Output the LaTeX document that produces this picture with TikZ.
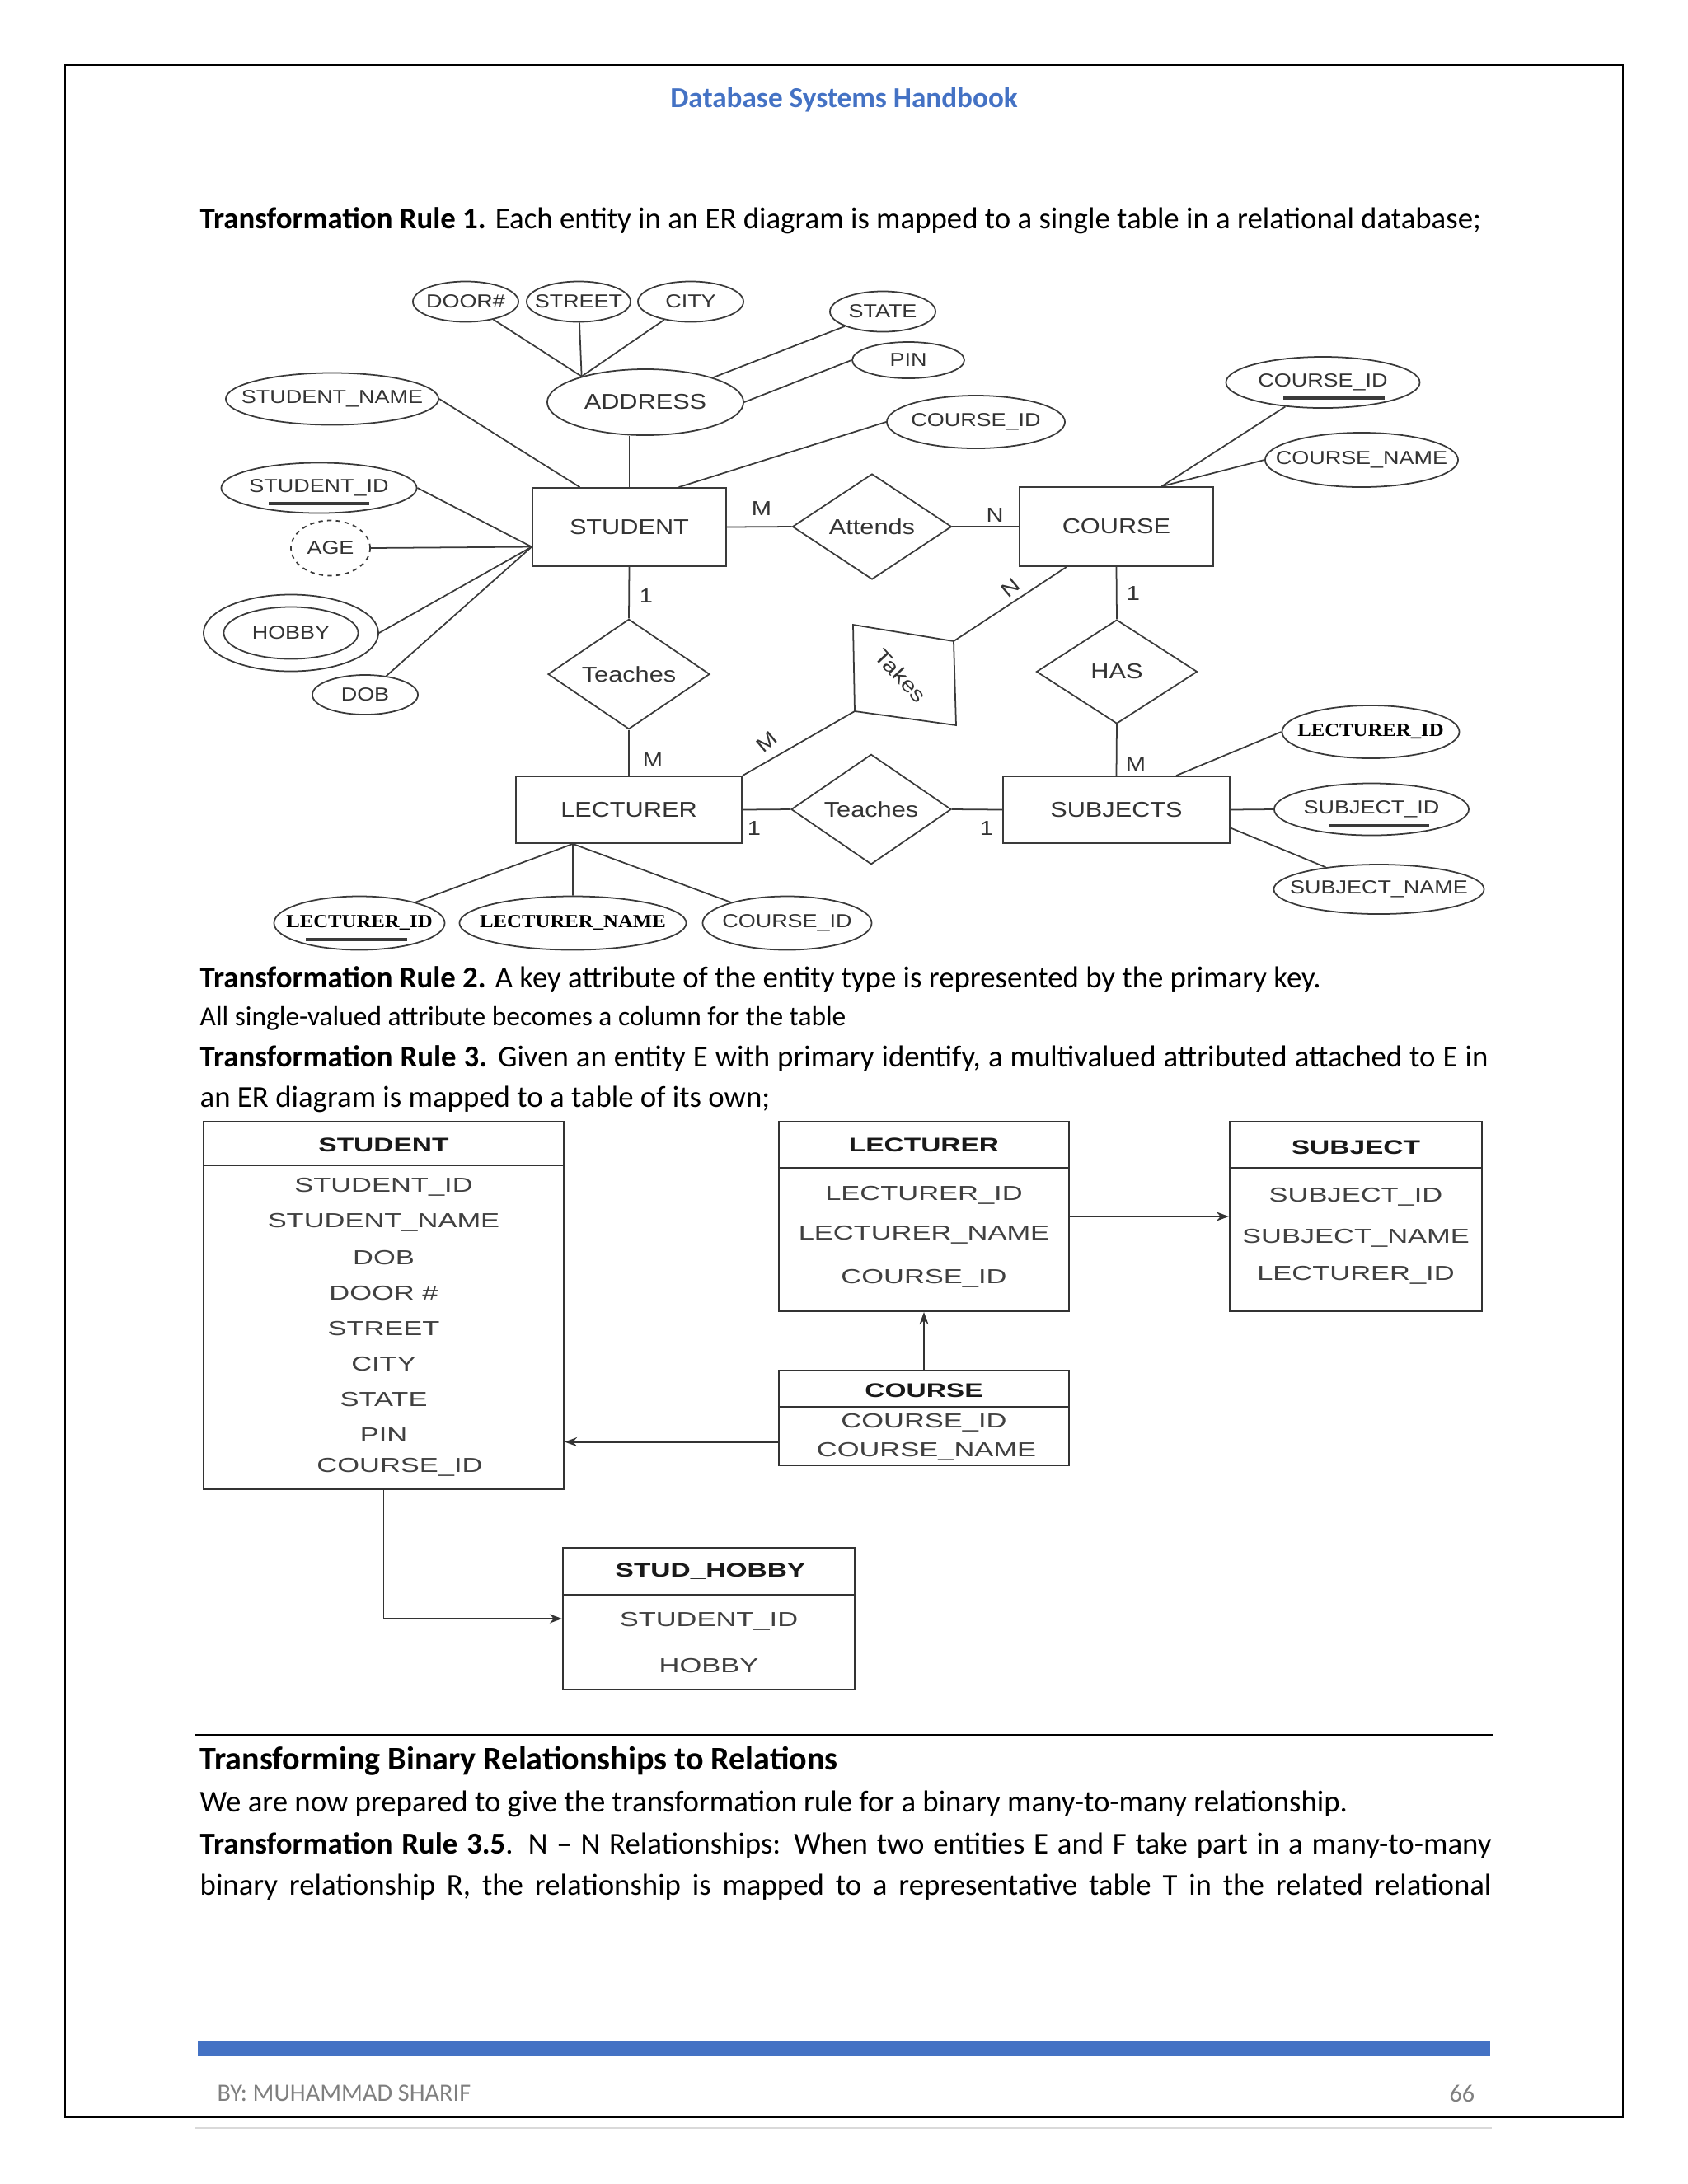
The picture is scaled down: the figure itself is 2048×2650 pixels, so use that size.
\documentclass[tikz,border=0pt]{standalone}
\usepackage{fontspec}
\usepackage{xcolor}
\usetikzlibrary{shapes.geometric,arrows.meta}
\setmainfont{Carlito}
\newfontfamily\erfont[FakeStretch=1.18]{Liberation Sans}
\newfontfamily\erserif[FakeStretch=1.1]{Liberation Serif}
\newfontfamily\tblfont[FakeStretch=1.4]{Liberation Sans}
\definecolor{hdblue}{HTML}{4472C4}
\definecolor{linegray}{HTML}{3A3A3A}
\definecolor{ertext}{HTML}{333333}
\definecolor{footgray}{HTML}{7F7F7F}
\newcommand{\attrtext}[1]{\makebox[0pt]{#1}}

\begin{document}
\begin{tikzpicture}[x=0.01cm, y=-0.01cm,
    erstroke/.style={draw=linegray, line width=0.5pt},
    attr/.style={ellipse, erstroke, inner sep=0pt, text=ertext, font=\erfont\fontsize{6.5}{7}\selectfont},
    boldattr/.style={attr, font=\erserif\bfseries\fontsize{6.4}{7}\selectfont, text=black},
    entity/.style={rectangle, erstroke, inner sep=0pt, text=ertext, font=\erfont\fontsize{7.4}{8}\selectfont},
    rel/.style={diamond, erstroke, inner sep=0pt, text=ertext, font=\erfont\fontsize{7.4}{8}\selectfont},
    card/.style={inner sep=0pt, text=ertext, font=\erfont\fontsize{7}{8}\selectfont},
    keyline/.style={draw=linegray, line width=1.1pt},
    tbl/.style={rectangle, draw=black!80, line width=0.55pt, inner sep=0pt},
    ttl/.style={inner sep=0pt, text=black!90, font=\tblfont\bfseries\fontsize{6.8}{8}\selectfont},
    row/.style={inner sep=0pt, text=black!75, font=\tblfont\fontsize{7}{8}\selectfont},
    fk/.style={draw=black!80, line width=0.55pt, -{Stealth[length=1.5mm,width=1.1mm]}},
    bodytext/.style={anchor=west, inner sep=0pt, font=\fontsize{10.47}{12}\selectfont},
  ]
    \useasboundingbox (0,0) rectangle (2048,2650);

    % page frame, header and footer
    \draw[line width=0.7pt] (79,79) rectangle (1969,2569);
    \draw[black!15, line width=0.8pt] (237,2582) -- (1810,2582);
    \node[inner sep=0pt, text=hdblue, font=\bfseries\fontsize{10}{12}\selectfont] (header) at (1024,121) {Database Systems Handbook};
    \fill[hdblue] (240,2476) rectangle (1808,2495);
    \node[anchor=west, inner sep=0pt, text=footgray, font=\fontsize{8.6}{10}\selectfont] (author) at (263,2540) {BY: MUHAMMAD SHARIF};
    \node[anchor=east, inner sep=0pt, text=footgray, font=\fontsize{8.6}{10}\selectfont] (pageno) at (1790,2540) {66};

    \node[bodytext] (rule1) at (242,268) {\textbf{Transformation Rule 1.} Each entity in an ER diagram is mapped to a single table in a relational database;};

    % ER diagram
    \node[attr, minimum width=1.28cm, minimum height=0.49cm] (door) at (565,366) {\attrtext{DOOR\#}};
    \node[attr, minimum width=1.26cm, minimum height=0.49cm] (street) at (702,366) {\attrtext{STREET}};
    \node[attr, minimum width=1.28cm, minimum height=0.49cm] (city) at (838,366) {\attrtext{CITY}};
    \node[attr, minimum width=1.28cm, minimum height=0.49cm] (state) at (1071,378) {\attrtext{STATE}};
    \node[attr, minimum width=1.36cm, minimum height=0.44cm] (pin) at (1102,437) {\attrtext{PIN}};
    \node[attr, minimum width=2.38cm, minimum height=0.80cm, font=\erfont\fontsize{7.4}{8}\selectfont] (addr) at (783,488) {\attrtext{ADDRESS}};
    \node[attr, minimum width=2.58cm, minimum height=0.63cm] (sname) at (403,484) {\attrtext{STUDENT\_NAME}};
    \node[attr, minimum width=2.16cm, minimum height=0.64cm] (scid) at (1184,512) {\attrtext{COURSE\_ID}};
    \node[attr, minimum width=2.37cm, minimum height=0.61cm] (sid) at (387,592) {\attrtext{STUDENT\_ID}};
    \node[attr, dash pattern=on 1.5pt off 1.5pt, minimum width=0.96cm, minimum height=0.67cm] (age) at (401,665) {\attrtext{AGE}};
    \node[attr, minimum width=2.12cm, minimum height=0.93cm] (hobout) at (353,768) {};
    \node[attr, minimum width=1.63cm, minimum height=0.63cm] (hobby) at (353,768) {\attrtext{HOBBY}};
    \node[attr, minimum width=1.28cm, minimum height=0.48cm] (dob) at (443,843) {\attrtext{DOB}};

    \node[entity, minimum width=2.35cm, minimum height=0.95cm] (student) at (763.5,639.5) {STUDENT};
    \node[rel, minimum width=1.93cm, minimum height=1.28cm] (attends) at (1058,639) {Attends};
    \node[entity, minimum width=2.35cm, minimum height=0.96cm] (course) at (1354.5,639) {COURSE};
    \node[attr, minimum width=2.35cm, minimum height=0.62cm] (ckey) at (1605,464) {\attrtext{COURSE\_ID}};
    \node[attr, minimum width=2.34cm, minimum height=0.66cm] (cname) at (1652,558) {\attrtext{COURSE\_NAME}};
    \node[rel, minimum width=1.96cm, minimum height=1.27cm] (teaches) at (763,818) {Teaches};
    \node[rel, minimum width=1.95cm, minimum height=1.26cm] (has) at (1355,815) {HAS};
    \node[entity, minimum width=2.74cm, minimum height=0.81cm] (lecturer) at (763,982.5) {LECTURER};
    \node[rel, minimum width=1.94cm, minimum height=1.28cm] (teachtwo) at (1057,982) {Teaches};
    \node[entity, minimum width=2.75cm, minimum height=0.81cm] (subjects) at (1354.5,982.5) {SUBJECTS};
    \node[boldattr, minimum width=2.15cm, minimum height=0.64cm] (slid) at (1663,888) {\attrtext{LECTURER\_ID}};
    \node[attr, minimum width=2.36cm, minimum height=0.63cm] (ssid) at (1664,982) {\attrtext{SUBJECT\_ID}};
    \node[attr, minimum width=2.55cm, minimum height=0.60cm] (ssname) at (1673,1079) {\attrtext{SUBJECT\_NAME}};
    \node[boldattr, minimum width=2.07cm, minimum height=0.65cm] (lid) at (436,1120) {\attrtext{LECTURER\_ID}};
    \node[boldattr, minimum width=2.75cm, minimum height=0.65cm] (lname) at (695,1120) {\attrtext{LECTURER\_NAME}};
    \node[attr, minimum width=2.05cm, minimum height=0.65cm] (lcid) at (955,1120) {\attrtext{COURSE\_ID}};

    \coordinate (tk1) at (1035,758);
    \coordinate (tk2) at (1157,778);
    \coordinate (tk3) at (1160,880);
    \coordinate (tk4) at (1037,863);
    \draw[erstroke] (tk1) -- (tk2) -- (tk3) -- (tk4) -- cycle;
    \node[card, rotate=-47, font=\erfont\fontsize{7.2}{8}\selectfont] (takes) at (1093,820) {Takes};

    \coordinate (sleft) at ([yshift=-0.24cm]student.west);
    \coordinate (ctop) at ([xshift=0.55cm]course.north);

    \draw[erstroke] (door) -- (addr.158);
    \draw[erstroke] (street) -- (addr.158);
    \draw[erstroke] (city) -- (addr.158);
    \draw[erstroke] (addr.20) -- (state);
    \draw[erstroke] (addr.east) -- (pin.west);
    \draw[erstroke] (student.north) -- (student.north |- addr.south);
    \draw[erstroke] (sname.east) -- ([xshift=-0.6cm]student.north);
    \draw[erstroke] (scid.west) -- ([xshift=0.6cm]student.north);
    \draw[erstroke] (sid.east) -- (sleft);
    \draw[erstroke] (age.east) -- (sleft);
    \draw[erstroke] (hobout.east) -- (sleft);
    \draw[erstroke] (dob) -- (sleft);
    \draw[erstroke] (student.east) -- (attends.west);
    \draw[erstroke] (attends.east) -- (course.west);
    \draw[erstroke] (ckey) -- (ctop);
    \draw[erstroke] (cname.west) -- (ctop);
    \draw[erstroke] (student.south) -- (teaches.north);
    \draw[erstroke] (teaches.south) -- (lecturer.north);
    \draw[erstroke] (course.south) -- (has.north);
    \draw[erstroke] (has.south) -- (subjects.north);
    \draw[erstroke] (lecturer.east) -- (teachtwo.west);
    \draw[erstroke] (teachtwo.east) -- (subjects.west);
    \draw[erstroke] (lecturer.north east) -- (tk4);
    \draw[erstroke] (tk2) -- ([xshift=-0.605cm]course.south);
    \draw[erstroke] (slid.west) -- ([xshift=0.725cm]subjects.north);
    \draw[erstroke] (subjects.east) -- (ssid.west);
    \draw[erstroke] ([yshift=-0.22cm]subjects.east) -- (ssname);
    \draw[erstroke] (lid) -- ([xshift=-0.68cm]lecturer.south);
    \draw[erstroke] (lname.north) -- ([xshift=-0.68cm]lecturer.south);
    \draw[erstroke] (lcid) -- ([xshift=-0.68cm]lecturer.south);

    % key underlines
    \draw[keyline] ([shift={(-61,19)}]sid.center) -- ([shift={(61,19)}]sid.center);
    \draw[keyline] ([shift={(-48,19)}]ckey.center) -- ([shift={(75,19)}]ckey.center);
    \draw[keyline] ([shift={(-52,20)}]ssid.center) -- ([shift={(70,20)}]ssid.center);
    \draw[keyline] ([shift={(-65,20)}]lid.center) -- ([shift={(58,20)}]lid.center);

    % cardinalities
    \node[card] (c1) at (924,617) {M};
    \node[card] (c2) at (1207,625) {N};
    \node[card] (c3) at (784,723) {1};
    \node[card] (c4) at (792,922) {M};
    \node[card] (c5) at (1375,720) {1};
    \node[card] (c6) at (1378,927) {M};
    \node[card] (c7) at (915,1005) {1};
    \node[card] (c8) at (1197,1005) {1};
    \node[card, rotate=40] (c9) at (930,900) {M};
    \node[card, rotate=40] (c10) at (1226,713) {N};

    \node[bodytext] (rule2) at (242,1188) {\textbf{Transformation Rule 2.} A key attribute of the entity type is represented by the primary key.};
    \node[bodytext, font=\fontsize{9.5}{11}\selectfont] (single) at (242,1236) {All single-valued attribute becomes a column for the table};
    \node[bodytext] (rule3a) at (242,1284) {\makebox[15.62cm][s]{\textbf{Transformation Rule 3.} Given an entity E with primary identify, a multivalued attributed attached to E in}};
    \node[bodytext] (rule3b) at (242,1334) {an ER diagram is mapped to a table of its own;};

    % relational tables
    \node[tbl, minimum width=4.37cm, minimum height=4.46cm] (tstudent) at (465.5,1584) {};
    \draw[tbl] ([yshift=-0.54cm]tstudent.north west) -- ([yshift=-0.54cm]tstudent.north east);
    \node[ttl] (tstudentttl) at (465.5,1389) {STUDENT};
    \foreach \y/\txt [count=\i] in {1440/STUDENT\_ID, 1483/STUDENT\_NAME, 1526/DOB, 1569/DOOR \#, 1612/STREET, 1655/CITY, 1698/STATE, 1741/PIN}
        \node[row] (srow\i) at (465.5,\y) {\txt};
    \node[row] (srow9) at (485,1780) {COURSE\_ID};

    \node[tbl, minimum width=3.52cm, minimum height=2.30cm] (tlecturer) at (1121,1476) {};
    \draw[tbl] ([yshift=-0.57cm]tlecturer.north west) -- ([yshift=-0.57cm]tlecturer.north east);
    \node[ttl] (tlecturerttl) at (1121,1389) {LECTURER};
    \foreach \y/\txt [count=\i] in {1450/LECTURER\_ID, 1498/LECTURER\_NAME, 1551/COURSE\_ID}
        \node[row] (lrow\i) at (1121,\y) {\txt};

    \node[tbl, minimum width=3.06cm, minimum height=2.30cm] (tsubject) at (1645,1476) {};
    \draw[tbl] ([yshift=-0.57cm]tsubject.north west) -- ([yshift=-0.57cm]tsubject.north east);
    \node[ttl] (tsubjectttl) at (1645,1392) {SUBJECT};
    \foreach \y/\txt [count=\i] in {1452/SUBJECT\_ID, 1502/SUBJECT\_NAME, 1547/LECTURER\_ID}
        \node[row] (jrow\i) at (1645,\y) {\txt};

    \node[tbl, minimum width=3.52cm, minimum height=1.15cm] (tcourse) at (1121,1720.5) {};
    \draw[tbl] ([yshift=-0.45cm]tcourse.north west) -- ([yshift=-0.45cm]tcourse.north east);
    \node[ttl] (tcoursettl) at (1121,1687) {COURSE};
    \node[row] (crow1) at (1121,1726) {COURSE\_ID};
    \node[row] (crow2) at (1124,1761) {COURSE\_NAME};

    \node[tbl, minimum width=3.54cm, minimum height=1.72cm] (thobby) at (860,1964) {};
    \draw[tbl] ([yshift=-0.58cm]thobby.north west) -- ([yshift=-0.58cm]thobby.north east);
    \node[ttl] (thobbyttl) at (862,1907) {STUD\_HOBBY};
    \node[row] (hrow1) at (860,1967) {STUDENT\_ID};
    \node[row] (hrow2) at (860,2021) {HOBBY};

    \draw[fk] (tlecturer.east) -- (tsubject.west);
    \draw[fk] (tcourse.north) -- (tlecturer.south);
    \draw[fk] ([yshift=-0.29cm]tcourse.west) -- ([yshift=-0.29cm]tcourse.west -| tstudent.east);
    \draw[fk] (tstudent.south) |- (thobby.west);

    % closing text
    \draw[line width=0.85pt] (237,2105) -- (1812,2105);
    \node[bodytext, font=\bfseries\fontsize{11.4}{13}\selectfont] (heading) at (242,2137) {Transforming Binary Relationships to Relations};
    \node[bodytext] (para1) at (242,2189) {We are now prepared to give the transformation rule for a binary many-to-many relationship.};
    \node[bodytext] (para2) at (242,2239) {\makebox[15.66cm][s]{\textbf{Transformation Rule 3.5}. N -- N Relationships: When two entities E and F take part in a many-to-many}};
    \node[bodytext] (para3) at (242,2290) {\makebox[15.66cm][s]{binary relationship R, the relationship is mapped to a representative table T in the related relational}};
\end{tikzpicture}
\end{document}
